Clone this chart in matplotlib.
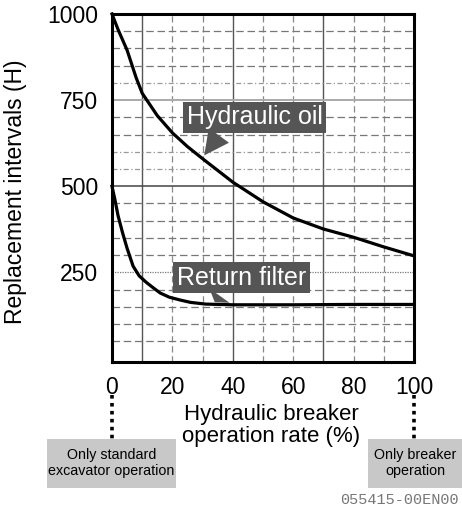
import numpy as np
import matplotlib.pyplot as plt
from matplotlib.patches import Rectangle
from matplotlib.transforms import blended_transform_factory

plt.rcParams["font.family"] = ["Liberation Sans", "DejaVu Sans"]

# operation rate (%) vs replacement interval (H)
oil_rate = [0, 2, 5, 8, 10, 15, 20, 25, 30, 40, 50, 60, 70, 80, 90, 100]
oil_hours = [1000, 955, 895, 815, 770, 705, 655, 615, 580, 512, 455, 408, 376, 352, 324, 298]

filter_rate = [0, 1, 2, 3.5, 5, 7, 9, 11.5, 14, 16, 19, 22.5, 26, 31, 40, 60, 80, 100]
filter_hours = [500, 460, 415, 365, 320, 268, 240, 220, 203, 190, 178, 170, 163, 158, 156, 156, 157, 157]

x_ticks = [0, 20, 40, 60, 80, 100]
y_ticks = [250, 500, 750, 1000]

fig = plt.figure(figsize=(4.62, 5.12), dpi=100)
ax = fig.add_axes([0.2424, 0.293, 0.6536, 0.6797])
ax.set_xlim(0, 100)
ax.set_ylim(-10, 1000)

# grid: mixed solid / dashed lines
for gx in range(10, 100, 10):
    if gx in (10, 40, 70):
        ax.axvline(gx, color="#555555", lw=1.0, zorder=1)
    else:
        ax.axvline(gx, color="#888888", lw=0.9, ls=(0, (5, 3)), zorder=1)
for gy in range(50, 1000, 50):
    if gy == 500:
        ax.axhline(gy, color="#444444", lw=1.1, zorder=1)
    elif gy == 750:
        ax.axhline(gy, color="#aaaaaa", lw=1.4, zorder=1)
    elif gy == 250:
        ax.axhline(gy, color="#777777", lw=0.9, ls=(0, (1, 1)), zorder=1)
    elif gy in (800, 600, 550):
        ax.axhline(gy, color="#999999", lw=0.9, ls=(0, (4, 2, 1, 2)), zorder=1)
    else:
        ax.axhline(gy, color="#777777", lw=0.9, ls=(0, (6, 3)), zorder=1)

ax.plot(oil_rate, oil_hours, color="black", lw=2.3, zorder=3, clip_on=False)
ax.plot(filter_rate, filter_hours, color="black", lw=2.3, zorder=3, clip_on=False)

callout_box = dict(boxstyle="square,pad=0.15", fc="#555555", ec="none")
ax.annotate("Hydraulic oil", xy=(30, 583), xytext=(47.2, 700),
            ha="center", va="center", color="white", fontsize=18,
            bbox=callout_box, zorder=4,
            arrowprops=dict(arrowstyle="wedge,tail_width=1.0,shrink_factor=0.5",
                            fc="#555555", ec="none", relpos=(0.27, 0.0)))
ax.annotate("Return filter", xy=(33.5, 157), xytext=(43, 235),
            ha="center", va="center", color="white", fontsize=18,
            bbox=callout_box, zorder=4,
            arrowprops=dict(arrowstyle="wedge,tail_width=1.0,shrink_factor=0.5",
                            fc="#555555", ec="none", relpos=(0.36, 0.0)))

ax.set_xticks(x_ticks)
ax.set_yticks(y_ticks)
ax.tick_params(length=0, labelsize=16.5, pad=10)
for s in ax.spines.values():
    s.set_linewidth(2.2)
    s.set_zorder(5)

ax.set_ylabel("Replacement intervals (H)", fontsize=16.5)
ax.yaxis.set_label_coords(-0.28, 0.49)
ax.set_xlabel("Hydraulic breaker\noperation rate (%)", fontsize=16,
              linespacing=1.05)
ax.xaxis.set_label_coords(0.527, -0.122)
ax.xaxis.label.set_va("top")

# dotted leaders to the end-point notes
trans = blended_transform_factory(ax.transData, ax.transAxes)
for xv in (0, 100):
    ax.plot([xv, xv], [-0.095, -0.222], transform=trans, color="black",
            lw=2.6, ls=(0, (1, 1.2)), clip_on=False)

W, H = 462, 512
fig.patches.append(Rectangle((47 / W, 1 - 488 / H), 129 / W, 49 / H,
                             transform=fig.transFigure, fc="#c8c8c8", ec="none"))
fig.patches.append(Rectangle((368 / W, 1 - 488 / H), 94 / W, 49 / H,
                             transform=fig.transFigure, fc="#c8c8c8", ec="none"))
fig.text(111.5 / W, 1 - 463 / H, "Only standard\nexcavator operation",
         ha="center", va="center", fontsize=10.3, linespacing=1.15)
fig.text(415 / W, 1 - 463 / H, "Only breaker\noperation",
         ha="center", va="center", fontsize=10.3, linespacing=1.15)

fig.text(399 / W, 1 - 500 / H, "055415-00EN00", ha="center", va="center",
         fontsize=11, color="#777777", family=["Liberation Mono", "DejaVu Sans Mono"])

fig.savefig("out.png", dpi=100)
